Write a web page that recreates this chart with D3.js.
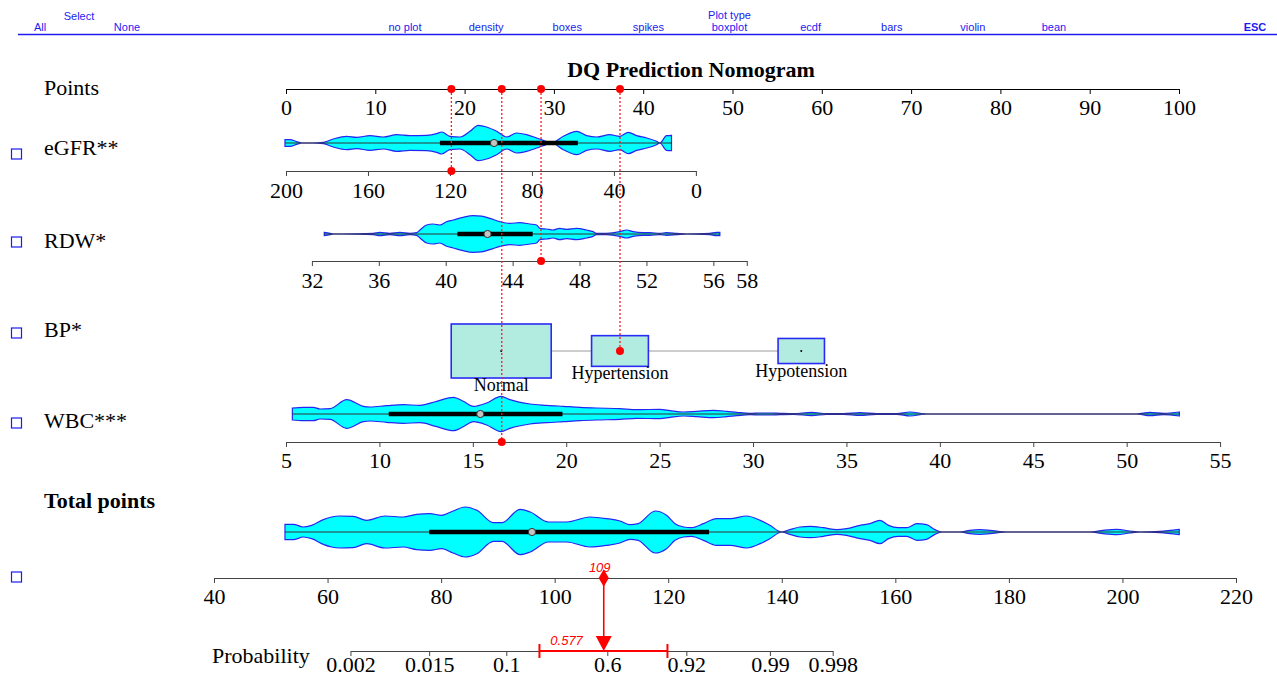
<!DOCTYPE html>
<html>
<head>
<meta charset="utf-8">
<script src="https://cdn.jsdelivr.net/npm/d3@7"></script>
<style>
  body { margin: 0; background: #fff; }
</style>
</head>
<body>
<svg id="chart" width="1277" height="679"></svg>
<script>
// ---------- data ----------
const plotTypes = ["no plot", "density", "boxes", "spikes", "boxplot", "ecdf", "bars", "violin", "bean"];
const rowLabels = ["Points", "eGFR**", "RDW*", "BP*", "WBC***", "Total points"];

const pointsTicks = [0, 10, 20, 30, 40, 50, 60, 70, 80, 90, 100];
const eGFRTicks = [200, 160, 120, 80, 40, 0];
const rdwTicks = [32, 36, 40, 44, 48, 52, 56, 58];
const wbcTicks = [5, 10, 15, 20, 25, 30, 35, 40, 45, 50, 55];
const totalTicks = [40, 60, 80, 100, 120, 140, 160, 180, 200, 220];
const probTicks = [0.002, 0.015, 0.1, 0.6, 0.92, 0.99, 0.998];

// value range of each predictor -> points range
const eGFRDomain = [200, 0], eGFRPointRange = [0, 45.9];
const rdwDomain = [32, 58], rdwPointRange = [2.9, 51.6];
const wbcDomain = [5, 55], wbcPointRange = [0, 104.6];
const bpCats = ["Normal", "Hypertension", "Hypotension"];
const bpPoints = [24.1, 37.4, 57.7];
const bpFreq = [0.65, 0.21, 0.14];

// violin outlines (value, relative density) and box [Q1, median, Q3]
const eGFRVals = [200.5,198,194.8,192.4,186.7,181.8,176.9,170.4,165.5,159,152.5,146,139.5,131.4,126.5,124,120,115.1,110.2,106.2,102.1,97.2,92.3,87.5,82.6,77.7,74.5,70.4,64.7,58.2,53.3,48.4,42,37.1,33,28.9,24,19.2,17.6,14.3,11.9];
const eGFRDens = [10,10,4,0,0,2,12,20,17,22,18,25,22,23,28,33,20,18,35,53,48,35,18,30,25,15,8,0,20,35,22,18,25,20,32,22,15,5,0,22,23];
const eGFRBox = [124.9, 98.5, 57.6];

const rdwVals = [32.74,33.08,33.27,33.87,35.67,36.06,36.66,37.26,37.86,38.26,38.46,38.86,39.25,39.65,40.05,40.45,41.04,41.64,42.14,42.64,43.24,43.83,44.43,45.03,45.43,45.63,46.03,46.42,46.82,47.22,47.82,48.42,48.81,49.01,49.61,50.41,50.81,51.2,51.8,52.2,52.8,53.2,53.8,54.4,55.79,56.19,56.39];
const rdwDens = [5,2,0,0,2,5,2,5,2,4,12,27,30,27,37,42,50,55,54,47,37,32,34,30,27,17,15,12,17,14,17,12,7,2,2,7,12,7,4,4,2,4,2,0,2,5,5];
const rdwBox = [40.7, 42.5, 45.2];

const wbcVals = [5.34,5.93,6.46,6.82,7.36,8.25,9.14,9.5,10.39,11.28,12.17,13.07,13.96,14.49,15.03,15.74,16.51,16.99,18.06,18.96,19.85,20.74,21.63,22.88,23.77,25.02,25.56,26.27,26.99,27.87,28.59,29.13,29.84,30.37,30.91,31.44,32.16,33.14,33.94,34.84,35.73,36.62,37.69,38.4,39.3,50.54,51.25,51.97,52.82];
const wbcDens = [18,20,20,15,16,43,23,21,25,28,26,38,50,38,23,33,53,43,30,26,23,20,18,16,13,14,10,6,8,11,8,5,2,3,3,2,1,5,1,1,4,1,1,6,0,0,5,2,6];
const wbcBox = [10.5, 15.4, 19.8];

const totalVals = [52.5,54,55.7,57.2,59.25,60.7,62.2,64.5,66.9,70.1,73.3,75.7,78,80.1,82.1,84.2,86.3,89.2,90.7,93.9,95.7,98.9,102.1,106.2,109.2,111.5,113.3,114.7,117.7,119.7,121.2,122.7,124.1,126.2,128.5,130.9,133.8,136.2,137.9,140,141.4,143.2,145,147.3,149.7,151.4,153.8,155.5,157.3,158.8,160.5,162,163.8,165.5,167,168.2,171.4,173.1,174.9,176.7,179.6,194.3,196.6,199,201.3,203.1,206.6,210];
const totalDens = [23,23,15,20,37,45,48,47,35,48,45,53,55,50,63,75,65,28,28,68,60,30,30,45,40,33,22,25,63,50,25,15,13,25,40,40,48,35,20,0,7,15,17,13,7,10,20,25,35,20,13,13,25,22,7,0,0,5,7,5,0,0,5,8,3,0,2,8];
const totalBox = [77.9, 96.0, 127.2];

// the patient shown in red
const obsEGFR = 119.3, obsRDW = 45.7, obsBP = "Hypertension", obsWBC = 16.55;
const predProb = 0.577, ciLow = 0.207, ciHigh = 0.876;
// logistic link: logit(p) = slope * (total - centre)
const logitSlope = 0.1463, logitCentre = 106.5;

// ---------- drawing ----------
const W = 1277, H = 679;
const serif = "'Liberation Serif','Times New Roman',serif";
const sans = "'Liberation Sans',Arial,sans-serif";
const svg = d3.select("#chart");
svg.append("rect").attr("width", W).attr("height", H).attr("fill", "#fff");

// row layout
const yPoints = 89;
const eGFRy = 143, eGFRaxis = 171;
const rdwY = 234, rdwAxis = 261;
const bpY = 351;
const wbcY = 414, wbcAxis = 442;
const totY = 532, totAxis = 578;
const probAxis = 651;

const pts = d3.scaleLinear().domain([0, 100]).range([286, 1179]);
const xEGFR = d3.scaleLinear().domain(eGFRDomain).range(eGFRPointRange.map(pts));
const xRDW = d3.scaleLinear().domain(rdwDomain).range(rdwPointRange.map(pts));
const xWBC = d3.scaleLinear().domain(wbcDomain).range(wbcPointRange.map(pts));
const xTot = d3.scaleLinear().domain([40, 220]).range([214, 1236]);
const logit = p => Math.log(p / (1 - p));
const probToTotal = p => logitCentre + logit(p) / logitSlope;
const xProb = p => xTot(probToTotal(p));

// menu bar
const menu = svg.append("g").attr("fill", "#1c1cf0")
  .style("font-family", sans).style("font-size", "11px");
const xType = d3.scalePoint().domain(plotTypes).range([405, 1054]);
menu.selectAll("text.ptype").data(plotTypes).join("text")
  .attr("class", "ptype")
  .attr("x", d => xType(d)).attr("y", 31)
  .attr("text-anchor", "middle").text(d => d);
menu.append("text").attr("x", xType("boxplot")).attr("y", 19).attr("text-anchor", "middle").text("Plot type");
menu.append("text").attr("x", 40).attr("y", 31).attr("text-anchor", "middle").text("All");
menu.append("text").attr("x", 79).attr("y", 20).attr("text-anchor", "middle").text("Select");
menu.append("text").attr("x", 127).attr("y", 31).attr("text-anchor", "middle").text("None");
menu.append("text").attr("x", 1255).attr("y", 31).attr("text-anchor", "middle")
  .style("font-weight", "bold").text("ESC");
svg.append("line").attr("x1", 18).attr("x2", W).attr("y1", 34.5).attr("y2", 34.5)
  .attr("stroke", "#1c1cf0").attr("stroke-width", 1.5);

// title
svg.append("text").attr("x", 691).attr("y", 77).attr("text-anchor", "middle")
  .style("font-family", serif).style("font-size", "22px").style("font-weight", "bold")
  .text("DQ Prediction Nomogram");

// left labels
const labelY = [95, 155, 248, 337, 428, 508];
svg.append("g").selectAll("text").data(rowLabels).join("text")
  .attr("x", 44).attr("y", (d, i) => labelY[i])
  .style("font-family", serif).style("font-size", "22px")
  .style("font-weight", d => d === "Total points" ? "bold" : "normal")
  .text(d => d);
svg.append("text").attr("x", 212).attr("y", 663)
  .style("font-family", serif).style("font-size", "22px").text("Probability");

// little blue check boxes
svg.append("g").selectAll("rect").data([154, 242, 333, 423, 577]).join("rect")
  .attr("x", 11.5).attr("y", d => d - 5).attr("width", 10).attr("height", 10)
  .attr("fill", "none").attr("stroke", "#1c1cf0").attr("stroke-width", 1.2);

// axes
function drawAxis(scale, y, values, fmt, color, pad) {
  const ax = d3.axisBottom(scale).tickValues(values).tickSize(5).tickSizeOuter(0).tickPadding(pad);
  if (fmt) ax.tickFormat(fmt);
  const g = svg.append("g").attr("transform", `translate(0,${y})`).call(ax);
  g.select(".domain").attr("stroke", color);
  g.selectAll(".tick line").attr("stroke", color);
  g.selectAll(".tick text").attr("fill", "#000")
    .style("font-family", serif).style("font-size", "22px");
  return g;
}
drawAxis(pts, yPoints, pointsTicks, null, "#000", 5);
drawAxis(xEGFR, eGFRaxis, eGFRTicks, null, "#444", 6);
drawAxis(xRDW, rdwAxis, rdwTicks, null, "#444", 6);
drawAxis(xWBC, wbcAxis, wbcTicks, null, "#444", 5);
drawAxis(xTot, totAxis, totalTicks, null, "#444", 5);
const xLogit = d3.scaleLinear()
  .domain([logit(probTicks[0]), logit(probTicks[probTicks.length - 1])])
  .range([xProb(probTicks[0]), xProb(probTicks[probTicks.length - 1])]);
drawAxis(xLogit, probAxis, probTicks.map(logit), (d, i) => String(probTicks[i]), "#444", 0);

// violins
function violin(x, cy, vals, dens, box, maxHalf) {
  const hs = d3.scaleLinear().domain([0, d3.max(dens)]).range([0, maxHalf]);
  const data = vals.map((v, i) => ({ v, w: dens[i] }));
  const area = d3.area()
    .x(d => x(d.v))
    .y0(d => cy - hs(d.w))
    .y1(d => cy + hs(d.w))
    .curve(d3.curveMonotoneX);
  svg.append("path").datum(data).attr("d", area)
    .attr("fill", "#00ffff").attr("stroke", "#2626f2").attr("stroke-width", 1.2);
  svg.append("line")
    .attr("x1", x(vals[0])).attr("x2", x(vals[vals.length - 1]))
    .attr("y1", cy).attr("y2", cy)
    .attr("stroke", "#333").attr("stroke-width", 1);
  svg.append("line")
    .attr("x1", x(box[0])).attr("x2", x(box[2]))
    .attr("y1", cy).attr("y2", cy)
    .attr("stroke", "#000").attr("stroke-width", 4.5);
  svg.append("circle").attr("cx", x(box[1])).attr("cy", cy).attr("r", 3.6)
    .attr("fill", "#c4c4c4").attr("stroke", "#333").attr("stroke-width", 1);
}
violin(xEGFR, eGFRy, eGFRVals, eGFRDens, eGFRBox, 17.7);
violin(xRDW, rdwY, rdwVals, rdwDens, rdwBox, 18.3);
violin(xWBC, wbcY, wbcVals, wbcDens, wbcBox, 17.7);
violin(xTot, totY, totalVals, totalDens, totalBox, 25);

// BP boxes
const bw = d3.scaleSqrt().domain([0, 1]).range([0, 124]);
const bh = d3.scaleSqrt().domain([0, 1]).range([0, 67]);
svg.append("line")
  .attr("x1", pts(d3.min(bpPoints))).attr("x2", pts(d3.max(bpPoints)))
  .attr("y1", bpY).attr("y2", bpY)
  .attr("stroke", "#bdbdbd").attr("stroke-width", 1.5);
const bp = svg.append("g").selectAll("g").data(bpCats).join("g");
bp.append("rect")
  .attr("x", (d, i) => pts(bpPoints[i]) - bw(bpFreq[i]) / 2)
  .attr("y", (d, i) => bpY - bh(bpFreq[i]) / 2)
  .attr("width", (d, i) => bw(bpFreq[i]))
  .attr("height", (d, i) => bh(bpFreq[i]))
  .attr("fill", "#b2ebe0").attr("stroke", "#2a2af5").attr("stroke-width", 1.6);
bp.filter(d => d !== obsBP).append("circle")
  .attr("cx", d => pts(bpPoints[bpCats.indexOf(d)])).attr("cy", bpY).attr("r", 1)
  .attr("fill", "#000");
bp.append("text")
  .attr("x", (d, i) => pts(bpPoints[i]))
  .attr("y", (d, i) => bpY + bh(bpFreq[i]) / 2 + 13)
  .attr("text-anchor", "middle")
  .style("font-family", serif).style("font-size", "18px")
  .text(d => d);

// red read-off lines and dots
const obs = [
  { p: d3.scaleLinear().domain(eGFRDomain).range(eGFRPointRange)(obsEGFR), x: xEGFR(obsEGFR), y: eGFRaxis },
  { p: d3.scaleLinear().domain(wbcDomain).range(wbcPointRange)(obsWBC), x: xWBC(obsWBC), y: wbcAxis },
  { p: d3.scaleLinear().domain(rdwDomain).range(rdwPointRange)(obsRDW), x: xRDW(obsRDW), y: rdwAxis },
  { p: bpPoints[bpCats.indexOf(obsBP)], x: pts(bpPoints[bpCats.indexOf(obsBP)]), y: bpY }
];
const red = svg.append("g");
red.selectAll("line").data(obs).join("line")
  .attr("x1", d => d.x).attr("x2", d => d.x)
  .attr("y1", yPoints).attr("y2", d => d.y)
  .attr("stroke", "#ff1a1a").attr("stroke-width", 1.3).attr("stroke-dasharray", "2,2");
red.selectAll("circle.top").data(obs).join("circle").attr("class", "top")
  .attr("cx", d => pts(d.p)).attr("cy", yPoints).attr("r", 4).attr("fill", "#ff0000");
red.selectAll("circle.bot").data(obs).join("circle").attr("class", "bot")
  .attr("cx", d => d.x).attr("cy", d => d.y).attr("r", 4).attr("fill", "#ff0000");

// total points and probability
const total = d3.sum(obs, d => d.p);
const xt = xTot(total);
svg.append("line").attr("x1", xt).attr("x2", xt).attr("y1", totAxis).attr("y2", probAxis - 14)
  .attr("stroke", "#ff0000").attr("stroke-width", 1.6);
svg.append("path")
  .attr("transform", `translate(${xt},${totAxis})`)
  .attr("d", d3.symbol(d3.symbolDiamond, 90)())
  .attr("fill", "#ff0000");
svg.append("path")
  .attr("d", `M${xt - 8},${probAxis - 15}L${xt + 8},${probAxis - 15}L${xt},${probAxis}Z`)
  .attr("fill", "#ff0000");
svg.append("text").attr("x", xt - 4).attr("y", totAxis - 6).attr("text-anchor", "middle")
  .attr("fill", "#ff0000").style("font-family", sans).style("font-size", "13px")
  .style("font-style", "italic").text(Math.round(total));

const ci = svg.append("g").attr("stroke", "#ff0000").attr("stroke-width", 2);
ci.append("line").attr("x1", xProb(ciLow)).attr("x2", xProb(ciHigh))
  .attr("y1", probAxis).attr("y2", probAxis);
ci.selectAll("line.cap").data([ciLow, ciHigh]).join("line").attr("class", "cap")
  .attr("x1", d => xProb(d)).attr("x2", d => xProb(d))
  .attr("y1", probAxis - 7).attr("y2", probAxis + 7);
svg.append("text").attr("x", (xProb(ciLow) + xt) / 2 - 5).attr("y", probAxis - 6)
  .attr("text-anchor", "middle").attr("fill", "#ff0000")
  .style("font-family", sans).style("font-size", "13px").style("font-style", "italic")
  .text(predProb.toFixed(3));
</script>
</body>
</html>
